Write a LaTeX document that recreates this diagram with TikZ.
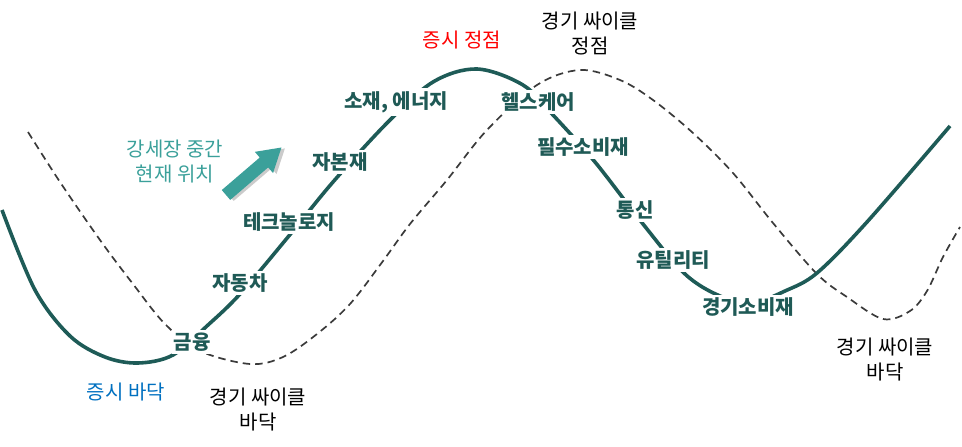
\documentclass[tikz,border=0pt]{standalone}
\usepackage{fontspec}
\setmainfont{Noto Sans CJK KR}
\usetikzlibrary{shadows}
\definecolor{curvec}{HTML}{1E5B57}
\definecolor{labc}{HTML}{1F5A56}
\definecolor{dashc}{HTML}{3A3A3A}
\definecolor{arrc}{HTML}{3BA09A}
\definecolor{topred}{HTML}{FF0000}
\definecolor{botblue}{HTML}{0070C0}
\tikzset{
  sector/.style={fill=white, text=labc, font=\fontsize{20}{25}\selectfont\bfseries, inner xsep=2pt, inner ysep=3pt},
  note/.style={text=black, font=\fontsize{20}{25}\selectfont, align=center, inner sep=0pt},
  market/.style={font=\fontsize{20}{25}\selectfont, inner sep=0pt},
  solidcurve/.style={draw=curvec, line width=3.6pt},
  dashcurve/.style={draw=dashc, line width=1.7pt, dash pattern=on 7.5pt off 5pt}
}
\begin{document}
\begin{tikzpicture}[x=1pt,y=1pt]
\useasboundingbox (0,0) rectangle (962,-447);
% economic cycle (dashed)
\draw[dashcurve] plot[smooth, tension=0.55] coordinates {(28,-132) (60,-182) (100,-240) (133,-284) (165,-324) (200,-351) (250,-364) (283,-357) (317,-334) (350,-304) (383,-261) (410,-224) (447,-180) (487,-130) (537,-85) (580,-70) (620,-80) (653,-100) (693,-133) (733,-173) (773,-223) (817,-274) (847,-297) (883,-319) (910,-311) (927,-291) (943,-257) (960,-227)};
% stock market cycle (solid)
\draw[solidcurve] plot[smooth, tension=0.55] coordinates {(2,-210) (35,-290) (70,-336) (105,-357) (138,-363) (173,-355) (208,-325) (240,-294) (288,-237) (333,-182) (388,-122) (433,-82) (477,-69) (523,-85) (553,-115) (595,-162) (643,-224) (685,-274) (720,-296) (752,-303) (785,-291) (817,-273) (867,-222) (950,-126)};
% arrow
\begin{scope}[shift={(226,-195)}, rotate=40.6]
\fill[black!45, opacity=0.45] (2,-9.5) -- (52,-9.5) -- (52,-17) -- (75,-3) -- (52,11) -- (52,3.5) -- (2,3.5) -- cycle;
\fill[arrc] (0,-6.5) -- (50,-6.5) -- (50,-14) -- (73,0) -- (50,14) -- (50,6.5) -- (0,6.5) -- cycle;
\end{scope}
% sector labels
\node[sector] (fin) at (192,-342) {금융};
\node[sector] (auto) at (240,-283) {자동차};
\node[sector] (tech) at (289,-222) {테크놀로지};
\node[sector] (cap) at (340,-162) {자본재};
\node[sector] (mat) at (396,-102) {소재, 에너지};
\node[sector] (health) at (538,-102) {헬스케어};
\node[sector] (staples) at (583,-147) {필수소비재};
\node[sector] (tel) at (635,-210) {통신};
\node[sector] (util) at (673,-260) {유틸리티};
\node[sector] (disc) at (748,-307) {경기소비재};
% market labels
\node[market, text=topred] (mtop) at (462,-40) {증시 정점};
\node[market, text=botblue] (mbot) at (126,-392) {증시 바닥};
\node[note] (etop) at (590,-33) {경기 싸이클\\정점};
\node[note] (ebot1) at (258,-410) {경기 싸이클\\바닥};
\node[note] (ebot2) at (885,-360) {경기 싸이클\\바닥};
\node[note, text=arrc] (now) at (175,-162) {강세장 중간\\현재 위치};
\end{tikzpicture}
\end{document}
